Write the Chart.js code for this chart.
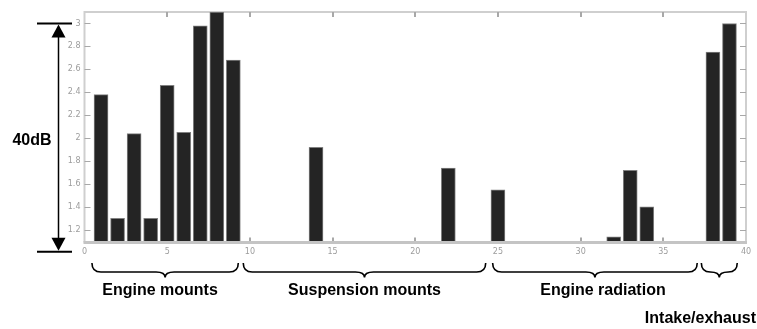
<!DOCTYPE html>
<html><head><meta charset="utf-8">
<script src="https://cdn.jsdelivr.net/npm/chart.js@4.4.1/dist/chart.umd.min.js"></script>
<style>html,body{margin:0;padding:0;background:#fff;overflow:hidden}canvas{display:block}</style>
</head><body>
<canvas id="c" width="757" height="329"></canvas>
<script>
// ---- data ----
const positions = [1, 2, 3, 4, 5, 6, 7, 8, 9, 14, 22, 25, 32, 33, 34, 38, 39];
const values    = [2.38, 1.30, 2.04, 1.30, 2.46, 2.05, 2.98, 3.10, 2.68, 1.92, 1.74, 1.55, 1.14, 1.72, 1.40, 2.75, 3.00];
const xTicks = [0, 5, 10, 15, 20, 25, 30, 35, 40];
const yTicks = [1.2, 1.4, 1.6, 1.8, 2, 2.2, 2.4, 2.6, 2.8, 3];
const groupLabels = ['Engine mounts', 'Suspension mounts', 'Engine radiation', 'Intake/exhaust'];
const rangeLabel = '40dB';

// ---- annotation layout (data units of x axis) ----
const braceSpans = [[0.45, 9.3], [9.6, 24.26], [24.68, 37.05], [37.3, 39.47]];

const decor = {
  id: 'decor',
  beforeDatasetsDraw(chart) {
    const {ctx, chartArea: a, scales: {x, y}} = chart;
    ctx.save();
    ctx.strokeStyle = '#cfcfcf';
    ctx.lineWidth = 2;
    ctx.beginPath();
    ctx.moveTo(a.left, a.bottom); ctx.lineTo(a.left, a.top); ctx.lineTo(a.right, a.top); ctx.lineTo(a.right, a.bottom);
    ctx.stroke();
    ctx.strokeStyle = '#a8a8a8';
    ctx.lineWidth = 1;
    yTicks.forEach(v => {
      const py = Math.round(y.getPixelForValue(v)) + 0.5;
      ctx.beginPath();
      ctx.moveTo(a.left, py); ctx.lineTo(a.left + 6, py);
      ctx.moveTo(a.right, py); ctx.lineTo(a.right - 6, py);
      ctx.stroke();
    });
    ctx.lineWidth = 2;
    xTicks.slice(1, -1).forEach(v => {
      const px = Math.round(x.getPixelForValue(v));
      ctx.beginPath();
      ctx.moveTo(px, a.top); ctx.lineTo(px, a.top + 5);
      ctx.moveTo(px, a.bottom); ctx.lineTo(px, a.bottom - 5);
      ctx.stroke();
    });
    ctx.restore();
  },
  afterDatasetsDraw(chart) {
    const {ctx, chartArea: a} = chart;
    ctx.save();
    ctx.strokeStyle = '#c4c4c4';
    ctx.lineWidth = 3;
    ctx.beginPath();
    ctx.moveTo(a.left - 1, a.bottom); ctx.lineTo(a.right + 1, a.bottom);
    ctx.stroke();
    ctx.restore();
  },
  afterDraw(chart) {
    const {ctx, scales: {x, y}} = chart;
    ctx.save();
    ctx.strokeStyle = '#000';
    ctx.fillStyle = '#000';
    const ax = 58.5;
    const yTop = y.getPixelForValue(3);
    const yBot = y.getPixelForValue(1.01);
    ctx.lineWidth = 2;
    ctx.beginPath();
    ctx.moveTo(37, yTop); ctx.lineTo(72, yTop);
    ctx.moveTo(37, yBot); ctx.lineTo(72, yBot);
    ctx.stroke();
    ctx.lineWidth = 1.5;
    ctx.beginPath();
    ctx.moveTo(ax, yTop + 10); ctx.lineTo(ax, yBot - 10);
    ctx.stroke();
    ctx.beginPath();
    ctx.moveTo(ax, yTop + 1); ctx.lineTo(ax - 7, yTop + 14); ctx.lineTo(ax + 7, yTop + 14); ctx.closePath();
    ctx.fill();
    ctx.beginPath();
    ctx.moveTo(ax, yBot - 1); ctx.lineTo(ax - 7, yBot - 14); ctx.lineTo(ax + 7, yBot - 14); ctx.closePath();
    ctx.fill();
    ctx.font = 'bold 16px "Liberation Sans", Arial, sans-serif';
    ctx.textAlign = 'center';
    ctx.textBaseline = 'middle';
    ctx.fillText(rangeLabel, 32, (yTop + yBot) / 2 + 3);

    ctx.lineWidth = 1.6;
    const top = 263, body = 272, tip = 277.5;
    braceSpans.forEach(([s, e]) => {
      const x0 = x.getPixelForValue(s), x1 = x.getPixelForValue(e);
      const m = (x0 + x1) / 2;
      const r = Math.min(9, (x1 - x0) / 4);
      ctx.beginPath();
      ctx.moveTo(x0, top);
      ctx.quadraticCurveTo(x0, body, x0 + r, body);
      ctx.lineTo(m - r, body);
      ctx.quadraticCurveTo(m, body, m, tip);
      ctx.quadraticCurveTo(m, body, m + r, body);
      ctx.lineTo(x1 - r, body);
      ctx.quadraticCurveTo(x1, body, x1, top);
      ctx.stroke();
    });
    ctx.font = 'bold 16px "Liberation Sans", Arial, sans-serif';
    ctx.textAlign = 'center';
    const labelX = [160, 364.5, 603];
    labelX.forEach((lx, i) => ctx.fillText(groupLabels[i], lx, 291));
    ctx.textAlign = 'right';
    ctx.fillText(groupLabels[3], 756, 319);
    ctx.restore();
  }
};

new Chart(document.getElementById('c'), {
  type: 'bar',
  data: {
    datasets: [{
      data: positions.map((p, i) => ({x: p, y: values[i]})),
      backgroundColor: '#242424',
      borderColor: '#808080',
      borderWidth: 1,
      barThickness: 14
    }]
  },
  options: {
    responsive: false,
    animation: false,
    devicePixelRatio: 1,
    layout: {padding: {top: 12, right: 11, left: 0, bottom: 0}},
    plugins: {legend: {display: false}, tooltip: {enabled: false}},
    scales: {
      x: {
        type: 'linear', min: 0, max: 40, offset: false,
        afterBuildTicks: s => { s.ticks = xTicks.map(v => ({value: v})); },
        afterFit: s => { s.height = 86.5; },
        grid: {display: false, drawTicks: false},
        border: {display: false},
        ticks: {color: '#9c9c9c', font: {size: 8, family: 'DejaVu Sans'}, padding: 5, maxRotation: 0, autoSkip: false,
                callback: v => String(+v.toFixed(1))}
      },
      y: {
        min: 1.09, max: 3.1,
        afterBuildTicks: s => { s.ticks = yTicks.map(v => ({value: v})); },
        afterFit: s => { s.width = 84.5; },
        grid: {display: false, drawTicks: false},
        border: {display: false},
        ticks: {color: '#9c9c9c', font: {size: 8, family: 'DejaVu Sans'}, padding: 4,
                callback: v => String(+v.toFixed(1))}
      }
    }
  },
  plugins: [decor]
});
</script>
</body></html>
